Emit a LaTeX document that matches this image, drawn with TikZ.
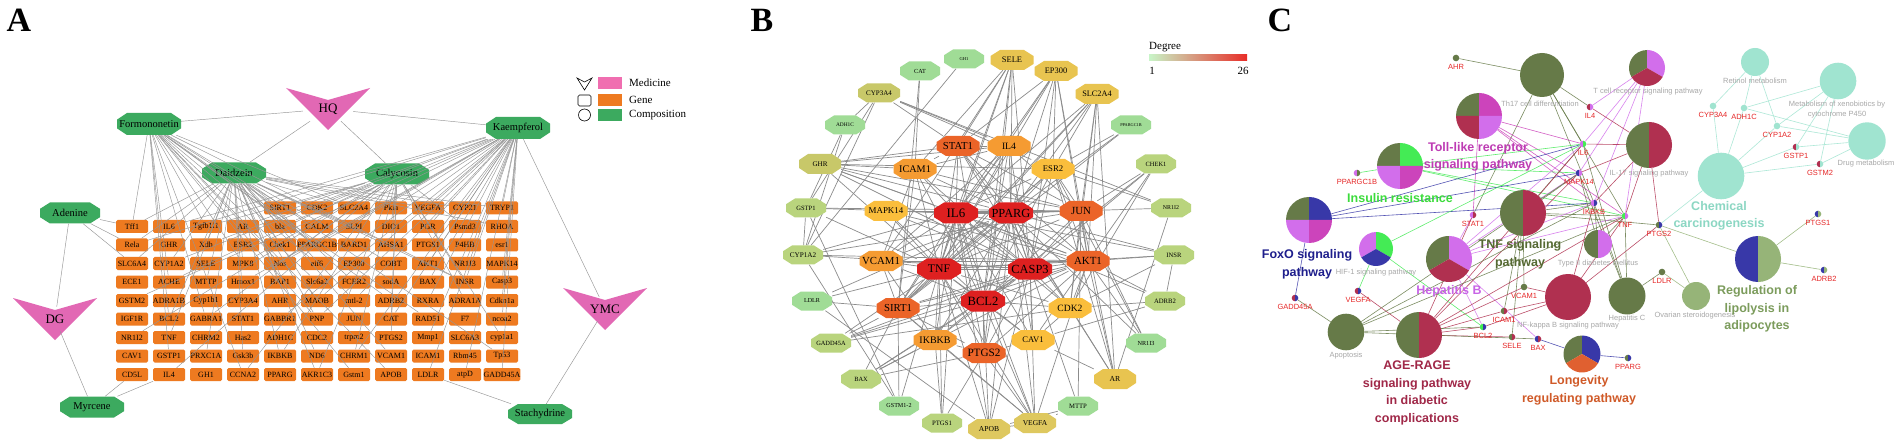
\documentclass[tikz,border=0pt]{standalone}
\usepackage{fontspec}
\setmainfont{Liberation Serif}
\newfontfamily\arialf{Liberation Sans}
\pgfdeclarelayer{bg}
\pgfdeclarelayer{fg}
\pgfsetlayers{bg,main,fg}
% panel A
\definecolor{pinkA}{RGB}{226,104,180}
\definecolor{legPink}{RGB}{240,110,176}
\definecolor{orangeA}{RGB}{238,122,32}
\definecolor{greenA}{RGB}{60,170,95}
\definecolor{edgeA}{RGB}{150,150,150}
% panel B
\definecolor{edgeB}{RGB}{140,140,140}
\definecolor{bLg}{RGB}{160,220,150}
\definecolor{bYg}{RGB}{185,212,125}
\definecolor{bOl}{RGB}{200,200,105}
\definecolor{bGd}{RGB}{232,196,80}
\definecolor{bGd2}{RGB}{222,200,95}
\definecolor{bLy}{RGB}{250,190,60}
\definecolor{bOr}{RGB}{245,155,50}
\definecolor{bDo}{RGB}{235,100,40}
\definecolor{bRd}{RGB}{222,32,32}
\definecolor{degLo}{RGB}{200,245,200}
\definecolor{degMid}{RGB}{255,240,140}
\definecolor{degHi}{RGB}{232,45,40}
% panel C
\definecolor{cOlive}{RGB}{102,122,72}
\definecolor{cCrim}{RGB}{176,48,80}
\definecolor{cMag}{RGB}{204,68,187}
\definecolor{cViolet}{RGB}{210,110,235}
\definecolor{cGreen}{RGB}{68,235,85}
\definecolor{cBlue}{RGB}{56,56,168}
\definecolor{cMint}{RGB}{160,228,208}
\definecolor{cLgreen}{RGB}{150,180,120}
\definecolor{cOrange}{RGB}{224,96,48}
\definecolor{redC}{RGB}{230,40,40}
\definecolor{grayC}{RGB}{168,168,168}
\definecolor{tMag}{RGB}{190,60,180}
\definecolor{tGreen}{RGB}{60,220,60}
\definecolor{tOlive}{RGB}{85,105,50}
\definecolor{tViolet}{RGB}{200,100,230}
\definecolor{tCrim}{RGB}{160,40,72}
\definecolor{tOrange}{RGB}{208,90,40}
\definecolor{tMint}{RGB}{140,215,195}
\definecolor{tLip}{RGB}{124,156,92}
\definecolor{tBlue}{RGB}{30,30,140}

\newcommand\fs[1]{\fontsize{#1}{#1}\selectfont}
% octagon: name, x, y, w, h, chamfer-x, colour, text
\newcommand\octo[8]{%
  \fill[#7] ({#2-#4/2},{#3-0.2*#5}) -- ({#2-#4/2+#6},{#3-#5/2}) -- ({#2+#4/2-#6},{#3-#5/2}) -- ({#2+#4/2},{#3-0.2*#5}) -- ({#2+#4/2},{#3+0.2*#5}) -- ({#2+#4/2-#6},{#3+#5/2}) -- ({#2-#4/2+#6},{#3+#5/2}) -- ({#2-#4/2},{#3+0.2*#5}) -- cycle;
  \node[inner sep=0pt, minimum width=#4, minimum height=#5] (#1) at (#2,#3) {#8};}
% V shape: name, x centre, y top, colour, text
\newcommand\vshape[5]{%
  \fill[#4] ({#2-42},{#3}) -- ({#2},{#3+12}) -- ({#2+42},{#3}) -- ({#2},{#3+42}) -- cycle;
  \node[inner sep=0pt, minimum width=50, minimum height=24] (#1) at ({#2},{#3+21}) {#5};}
\newcommand\generow[3]{\foreach \g [count=\c from #2] in {#3} {\node[gene] (g#1-\c) at ({132+37*\c},{208+18.5*#1}) {\g};}}
% pies
\newcommand\slc[6]{\fill[#6] (#1,#2) -- ++(#3:#5) arc[start angle=#3,end angle=#4,radius=#5] -- cycle;}
\newcommand\pnode[4]{\node[circle,inner sep=0pt,minimum size={2*#4}] (#1) at (#2,#3) {};}
\newcommand\pieF[5]{\fill[#5] (#2,#3) circle[radius=#4]; \pnode{#1}{#2}{#3}{#4}}
\newcommand\pieH[6]{\slc{#2}{#3}{90}{270}{#4}{#5}\slc{#2}{#3}{270}{450}{#4}{#6}\pnode{#1}{#2}{#3}{#4}}
\newcommand\pieT[7]{\slc{#2}{#3}{150}{270}{#4}{#5}\slc{#2}{#3}{270}{390}{#4}{#6}\slc{#2}{#3}{30}{150}{#4}{#7}\pnode{#1}{#2}{#3}{#4}}
\newcommand\pieQ[8]{\slc{#2}{#3}{180}{270}{#4}{#5}\slc{#2}{#3}{270}{360}{#4}{#6}\slc{#2}{#3}{90}{180}{#4}{#7}\slc{#2}{#3}{0}{90}{#4}{#8}\pnode{#1}{#2}{#3}{#4}}
% gene dot: name, x, y, left colour, right colour, label
\newcommand\gdot[6]{%
  \fill[#4] (#2,#3) -- ++(90:3.3) arc[start angle=90,end angle=270,radius=3.3] -- cycle;
  \fill[#5] (#2,#3) -- ++(270:3.3) arc[start angle=270,end angle=450,radius=3.3] -- cycle;
  \node[circle,inner sep=0pt,minimum size=6.6pt] (#1) at (#2,#3) {};
  \node[glab] (#1l) at (#2,{#3+9}) {#6};}

\tikzset{
  gene/.style={rectangle, rounded corners=1.5pt, fill=orangeA, minimum width=32pt, minimum height=13pt, inner sep=0pt, font=\fs{8}},
  aedge/.style={draw=edgeA, line width=0.45pt},
  bedge/.style={draw=edgeB, line width=0.7pt},
  cedge/.style={line width=0.6pt, draw opacity=0.85},
  glab/.style={font=\arialf\fs{7.5}, text=redC, inner sep=0pt},
  graylab/.style={font=\arialf\fontsize{7.5}{10}\selectfont, text=grayC, inner sep=0pt, align=center},
  blab/.style={font=\arialf\bfseries\fontsize{12.5}{17.5}\selectfont, inner sep=0pt, align=center},
  plabel/.style={font=\bfseries\fs{34}, inner sep=0pt},
  legtxt/.style={font=\fs{11}, inner sep=0pt, anchor=west}
}

\begin{document}
\begin{tikzpicture}[x=1pt,y=-1pt]
\useasboundingbox (0,0) rectangle (1902,446);
\begin{pgfonlayer}{bg}
\fill[white] (0,0) rectangle (1902,446);
\end{pgfonlayer}

%================ PANEL A =================
\node[plabel] (labA) at (19,20) {A};
\vshape{aHQ}{328}{88}{pinkA}{\fs{13}HQ}
\vshape{aDG}{55}{298}{pinkA}{\fs{13}DG}
\vshape{aYMC}{605}{288}{pinkA}{\fs{13}YMC}
\octo{aForm}{149}{124}{64}{22}{10}{greenA}{\fs{10.5}Formononetin}
\octo{aKaem}{518}{128}{64}{22}{10}{greenA}{\fs{10.5}Kaempferol}
\octo{aDaid}{234}{173}{64}{21}{10}{greenA}{\fs{10.5}Daidzein}
\octo{aCaly}{397}{174}{64}{21}{10}{greenA}{\fs{10.5}Calycosin}
\octo{aAden}{70}{213}{60}{21}{10}{greenA}{\fs{10.5}Adenine}
\octo{aMyrc}{92}{407}{64}{21}{10}{greenA}{\fs{10.5}Myrcene}
\octo{aStac}{540}{414}{64}{20}{10}{greenA}{\fs{10.5}Stachydrine}

\generow{0}{4}{SIRT1,CDK2,SLC2A4,Pkia,VEGFA,CYP21,TRYP1}
\generow{1}{0}{Tff1,IL6,Tgfb1i1,AR,bla,CALM,SLPI,DIO1,PGR,Psmd3,RHOA}
\generow{2}{0}{Rela,GHR,Xdh,ESR2,Chek1,PPARGC1B,BARD1,AHSA1,PTGS1,P4HB,esr1}
\generow{3}{0}{SLC6A4,CYP1A2,SELE,MPK8,Nos,eif6,EP300,COBT,AKT1,NR1I3,MAPK14}
\generow{4}{0}{ECE1,ACHE,MTTP,Hmox1,BAP1,Slc6a2,FCER2,sodA,BAX,INSR,Casp3}
\generow{5}{0}{GSTM2,ADRA1B,Cyp1b1,CYP3A4,AHR,MAOB,mtl-2,ADRB2,RXRA,ADRA1A,Cdkn1a}
\generow{6}{0}{IGF1R,BCL2,GABRA1,STAT1,GABBR1,PNP,JUN,CAT,RAD51,F7,ncoa2}
\generow{7}{0}{NR1I2,TNF,CHRM2,Has2,ADH1C,CDC2,trpm2,PTGS2,Mmp1,SLC6A3,cyp1a1}
\generow{8}{0}{CAV1,GSTP1,PRXC1A,Gsk3b,IKBKB,ND6,CHRM1,VCAM1,ICAM1,Rbm45,Tp53}
\generow{9}{0}{CD5L,IL4,GH1,CCNA2,PPARG,AKR1C3,Gstm1,APOB,LDLR,atpD,GADD45A}

% legend A
\draw[line width=0.6pt] (577,78) -- (584.5,82) -- (592,78) -- (584.5,90) -- cycle;
\draw[line width=0.6pt, rounded corners=1.5pt] (578,95) rectangle (591,106);
\draw[line width=0.6pt] (584.5,115) circle[radius=6];
\fill[legPink] (598,77) rectangle (622,89);
\fill[orangeA] (598,94) rectangle (622,106);
\fill[greenA] (598,109) rectangle (622,121);
\node[legtxt] (legM) at (629,83) {Medicine};
\node[legtxt] (legG) at (629,100) {Gene};
\node[legtxt] (legC) at (629,115) {Composition};

\begin{pgfonlayer}{fg}
\foreach \a/\b in {aHQ/aForm,aHQ/aKaem,aHQ/aDaid,aHQ/aCaly,aDG/aAden,aDG/aMyrc,aYMC/aKaem,aYMC/aStac,aAden/g1-0,aAden/g2-0,aAden/g3-0,aMyrc/g9-0,aMyrc/g9-1,aStac/g9-8}
  \draw[aedge] (\a) -- (\b);
\pgfmathsetseed{4242}
\foreach \r in {0,...,9}{\foreach \c in {0,...,10}{%
  \pgfmathtruncatemacro\ok{(\r>0)||(\c>3)}%
  \ifnum\ok=1
    \pgfmathsetmacro\pf{(0.5-0.04*\c)*(1-0.06*\r)}%
    \pgfmathsetmacro\pk{(0.22+0.045*\c)*(1-0.05*\r)}%
    \pgfmathsetmacro\pd{0.36*(1-0.06*\r)}%
    \pgfmathsetmacro\pc{(0.18+0.02*\c)*(1-0.06*\r)}%
    \pgfmathtruncatemacro\hf{rnd<\pf}%
    \pgfmathtruncatemacro\hk{rnd<\pk}%
    \pgfmathtruncatemacro\hd{rnd<\pd}%
    \pgfmathtruncatemacro\hc{rnd<\pc}%
    \ifnum\hf=1 \draw[aedge] (aForm) -- (g\r-\c);\fi
    \ifnum\hk=1 \draw[aedge] (aKaem) -- (g\r-\c);\fi
    \ifnum\hd=1 \draw[aedge] (aDaid) -- (g\r-\c);\fi
    \ifnum\hc=1 \draw[aedge] (aCaly) -- (g\r-\c);\fi
  \fi}}
\end{pgfonlayer}

%================ PANEL B =================
\node[plabel] (labB) at (762,20) {B};
\node[legtxt] (degT) at (1149,47) {Degree};
\shade[left color=degLo, middle color=degMid, right color=degHi] (1149,55) rectangle (1247,61);
\node[font=\fs{11}, inner sep=0pt] (deg1) at (1152,71) {1};
\node[font=\fs{11}, inner sep=0pt] (deg26) at (1243,71) {26};

\octo{bGH1}{964}{59}{40}{19}{9}{bLg}{\fs{4.5}GH1}
\octo{bSELE}{1012}{60}{43}{20}{9.5}{bGd}{\fs{8.5}SELE}
\octo{bCAT}{920}{71}{40}{19}{9}{bLg}{\fs{6.2}CAT}
\octo{bEP300}{1056}{71}{43}{20}{9.5}{bGd}{\fs{8.4}EP300}
\octo{bCYP3A4}{879}{93}{42}{19}{9}{bOl}{\fs{7}CYP3A4}
\octo{bSLC2A4}{1097}{94}{43}{20}{9.5}{bGd}{\fs{8.3}SLC2A4}
\octo{bADH1C}{845}{125}{40}{19}{9}{bLg}{\fs{5.4}ADH1C}
\octo{bPPARGC1B}{1131}{125}{40}{19}{9}{bLg}{\fs{4.3}PPARGC1B}
\octo{bSTAT1}{958}{146}{43}{20}{9.5}{bDo}{\fs{10.7}STAT1}
\octo{bIL4}{1009}{146}{43}{20}{9.5}{bOr}{\fs{9.7}IL4}
\octo{bGHR}{820}{164}{42}{20}{9}{bOl}{\fs{7.1}GHR}
\octo{bICAM1}{915}{169}{43}{20}{9.5}{bOr}{\fs{10.2}ICAM1}
\octo{bESR2}{1053}{169}{43}{20}{9.5}{bLy}{\fs{8.7}ESR2}
\octo{bCHEK1}{1156}{164}{40}{19}{9}{bYg}{\fs{6.4}CHEK1}
\octo{bGSTP1}{806}{208}{40}{19}{9}{bYg}{\fs{6.5}GSTP1}
\octo{bMAPK14}{886}{211}{43}{20}{9.5}{bLy}{\fs{8.9}MAPK14}
\octo{bIL6}{956}{213}{44}{21}{10}{bRd}{\fs{12.9}IL6}
\octo{bPPARG}{1011}{213}{44}{21}{10}{bRd}{\fs{12.4}PPARG}
\octo{bJUN}{1081}{211}{43}{20}{9.5}{bDo}{\fs{10.9}JUN}
\octo{bNR1I2}{1171}{208}{40}{19}{9}{bYg}{\fs{5.9}NR1I2}
\octo{bCYP1A2}{803}{255}{40}{19}{9}{bYg}{\fs{7.2}CYP1A2}
\octo{bVCAM1}{881}{261}{43}{20}{9.5}{bOr}{\fs{10.8}VCAM1}
\octo{bTNF}{939}{269}{44}{21}{10}{bRd}{\fs{11.7}TNF}
\octo{bCASP3}{1030}{269}{44}{21}{10}{bRd}{\fs{12.4}CASP3}
\octo{bAKT1}{1088}{261}{43}{20}{9.5}{bDo}{\fs{10.9}AKT1}
\octo{bINSR}{1174}{255}{40}{19}{9}{bYg}{\fs{6.6}INSR}
\octo{bLDLR}{812}{301}{40}{19}{9}{bLg}{\fs{6.1}LDLR}
\octo{bSIRT1}{898}{308}{43}{20}{9.5}{bDo}{\fs{10.7}SIRT1}
\octo{bBCL2}{983}{301}{44}{21}{10}{bRd}{\fs{12.6}BCL2}
\octo{bCDK2}{1070}{308}{43}{20}{9.5}{bLy}{\fs{9.6}CDK2}
\octo{bADRB2}{1165}{301}{40}{19}{9}{bYg}{\fs{6.7}ADRB2}
\octo{bGADD45A}{831}{343}{40}{19}{9}{bYg}{\fs{6.4}GADD45A}
\octo{bIKBKB}{935}{340}{43}{20}{9.5}{bOr}{\fs{10}IKBKB}
\octo{bPTGS2}{984}{353}{43}{20}{9.5}{bDo}{\fs{11.2}PTGS2}
\octo{bCAV1}{1033}{340}{43}{20}{9.5}{bLy}{\fs{8.6}CAV1}
\octo{bNR1I3}{1146}{343}{40}{19}{9}{bLg}{\fs{6.2}NR1I3}
\octo{bBAX}{861}{379}{40}{19}{9}{bYg}{\fs{6.4}BAX}
\octo{bAR}{1115}{379}{42}{20}{9}{bGd}{\fs{7.7}AR}
\octo{bGSTMa}{899}{406}{40}{19}{9}{bLg}{\fs{6.1}GSTM1-2}
\octo{bMTTP}{1078}{406}{40}{19}{9}{bLg}{\fs{6.7}MTTP}
\octo{bPTGS1}{942}{423}{40}{19}{9}{bYg}{\fs{6.7}PTGS1}
\octo{bAPOB}{989}{429}{42}{20}{9}{bGd2}{\fs{7.6}APOB}
\octo{bVEGFA}{1035}{423}{42}{20}{9}{bGd2}{\fs{7.5}VEGFA}

\begin{pgfonlayer}{bg}
\foreach \a in {IL6,PPARG,TNF,CASP3,BCL2}{\foreach \b in {STAT1,IL4,ICAM1,ESR2,MAPK14,JUN,VCAM1,AKT1,SIRT1,CDK2,IKBKB,PTGS2,CAV1}{\draw[bedge] (b\a) -- (b\b);}}
\foreach \a/\b in {IL6/PPARG,IL6/TNF,IL6/CASP3,IL6/BCL2,PPARG/TNF,PPARG/CASP3,PPARG/BCL2,TNF/CASP3,TNF/BCL2,CASP3/BCL2,
 STAT1/IL4,STAT1/ICAM1,STAT1/JUN,STAT1/AKT1,IL4/ICAM1,IL4/JUN,ICAM1/VCAM1,ICAM1/SIRT1,ESR2/JUN,ESR2/AKT1,MAPK14/JUN,MAPK14/AKT1,JUN/AKT1,JUN/CDK2,VCAM1/SIRT1,VCAM1/IKBKB,AKT1/CDK2,AKT1/PTGS2,SIRT1/IKBKB,SIRT1/PTGS2,IKBKB/PTGS2,PTGS2/CAV1,CDK2/CAV1,AKT1/CAV1,SIRT1/AKT1,ICAM1/JUN,VCAM1/AKT1,STAT1/CDK2,IL4/VCAM1,ESR2/SIRT1,
 GH1/CYP1A2,CAT/ICAM1,CAT/SIRT1,
 SELE/IL6,SELE/PPARG,SELE/TNF,SELE/CASP3,SELE/BCL2,SELE/ICAM1,SELE/VCAM1,SELE/STAT1,SELE/PTGS2,
 EP300/STAT1,EP300/PPARG,EP300/JUN,EP300/AKT1,EP300/ESR2,EP300/CASP3,EP300/SIRT1,EP300/IL6,EP300/TNF,
 CYP3A4/ADH1C,CYP3A4/GSTP1,CYP3A4/CYP1A2,CYP3A4/IL4,CYP3A4/ESR2,CYP3A4/STAT1,
 SLC2A4/JUN,SLC2A4/AKT1,SLC2A4/PPARG,SLC2A4/IL6,SLC2A4/ESR2,SLC2A4/SIRT1,SLC2A4/CDK2,SLC2A4/TNF,SLC2A4/AR,
 ADH1C/GSTP1,ADH1C/CYP1A2,PPARGC1B/PPARG,PPARGC1B/SIRT1,PPARGC1B/ESR2,
 GHR/STAT1,GHR/IL6,GHR/PPARG,GHR/TNF,GHR/JUN,GHR/CASP3,GHR/AKT1,GHR/IL4,GHR/ICAM1,GHR/ESR2,
 CHEK1/CDK2,CHEK1/BCL2,CHEK1/JUN,CHEK1/AKT1,CHEK1/CASP3,
 GSTP1/CYP1A2,GSTP1/JUN,GSTP1/TNF,GSTP1/IL6,
 NR1I2/ESR2,NR1I2/CYP3A4,NR1I2/AR,NR1I2/PPARG,
 CYP1A2/AKT1,CYP1A2/IL6,CYP1A2/JUN,CYP1A2/CASP3,
 INSR/AKT1,INSR/PPARG,INSR/IL6,INSR/TNF,INSR/CDK2,INSR/ADRB2,
 LDLR/SIRT1,LDLR/PPARG,LDLR/APOB,LDLR/TNF,
 ADRB2/AKT1,ADRB2/CAV1,ADRB2/CDK2,ADRB2/IL6,
 GADD45A/SIRT1,GADD45A/TNF,GADD45A/AKT1,GADD45A/BCL2,GADD45A/CDK2,GADD45A/CASP3,
 NR1I3/AKT1,NR1I3/ESR2,NR1I3/JUN,NR1I3/PPARG,
 BAX/BCL2,BAX/CASP3,BAX/PTGS2,BAX/IKBKB,BAX/SIRT1,BAX/AKT1,
 AR/AKT1,AR/ESR2,AR/PPARG,AR/CAV1,AR/CDK2,AR/JUN,
 GSTMa/GSTP1,GSTMa/CYP1A2,GSTMa/SIRT1,GSTMa/IL6,
 MTTP/APOB,MTTP/PPARG,MTTP/JUN,
 PTGS1/PTGS2,PTGS1/IKBKB,PTGS1/IL6,PTGS1/TNF,
 APOB/PPARG,APOB/TNF,APOB/IL6,APOB/VEGFA,APOB/CASP3,APOB/BCL2,
 VEGFA/IL6,VEGFA/TNF,VEGFA/PPARG,VEGFA/AKT1,VEGFA/MTTP,VEGFA/CASP3,VEGFA/BCL2,VEGFA/PTGS2,VEGFA/SIRT1,VEGFA/IKBKB}
  \draw[bedge] (b\a) -- (b\b);
\end{pgfonlayer}

%================ PANEL C =================
\node[plabel] (labC) at (1280,20) {C};
\pieF{pTh17}{1542}{75}{22}{cOlive}
\pieQ{pToll}{1479}{116}{23}{cOlive}{cMag}{cCrim}{cViolet}
\pieQ{pIns}{1400}{166}{23}{cOlive}{cGreen}{cViolet}{cMag}
\pieQ{pFoxO}{1309}{220}{23}{cOlive}{cBlue}{cViolet}{cMag}
\pieH{pTNFs}{1523}{213}{23}{cOlive}{cCrim}
\pieT{pTcell}{1647}{68}{18}{cOlive}{cViolet}{cCrim}
\pieH{pIL17}{1649}{145}{23}{cOlive}{cCrim}
\pieT{pHIF}{1376}{249}{17}{cViolet}{cGreen}{cBlue}
\pieT{pHepB}{1449}{259}{23}{cOlive}{cViolet}{cCrim}
\pieF{pApop}{1346}{332}{18.3}{cOlive}
\pieH{pAGE}{1419}{335}{23}{cOlive}{cCrim}
\pieF{pNFkB}{1568}{297}{23}{cCrim}
\pieH{pT2D}{1598}{244}{14}{cOlive}{cViolet}
\pieF{pHepC}{1627}{296}{18.5}{cOlive}
\pieF{pOvar}{1696}{296}{14}{cLgreen}
\pieH{pLipo}{1758}{259}{23}{cBlue}{cLgreen}
\pieT{pLong}{1582}{354}{18.5}{cOlive}{cBlue}{cOrange}
\pieF{pRet}{1755}{62}{14}{cMint}
\pieF{pXeno}{1838}{81}{18.3}{cMint}
\pieF{pDrug}{1867}{141}{18.7}{cMint}
\pieF{pChem}{1721}{176}{23.3}{cMint}

\gdot{kAHR}{1456}{58}{cOlive}{cOlive}{AHR}
\gdot{kIL4}{1590}{107}{cCrim}{cViolet}{IL4}
\gdot{kIL6}{1583}{144}{cViolet}{cGreen}{IL6}
\gdot{kMAPK14}{1579}{173}{cBlue}{cViolet}{MAPK14}
\gdot{kIKBKB}{1594}{203}{cViolet}{cBlue}{IKBKB}
\gdot{kTNF}{1625}{216}{cGreen}{cViolet}{TNF}
\gdot{kPTGS2}{1659}{225}{cOlive}{cBlue}{PTGS2}
\gdot{kSTAT1}{1473}{215}{cViolet}{cCrim}{STAT1}
\gdot{kPPARGC1B}{1357}{173}{cViolet}{cOlive}{PPARGC1B}
\gdot{kGADD45A}{1295}{298}{cCrim}{cBlue}{GADD45A}
\gdot{kVEGFA}{1358}{291}{cCrim}{cBlue}{VEGFA}
\gdot{kBCL2}{1483}{327}{cGreen}{cBlue}{BCL2}
\gdot{kICAM1}{1504}{311}{cOlive}{cCrim}{ICAM1}
\gdot{kVCAM1}{1524}{287}{cOlive}{cOlive}{VCAM1}
\gdot{kSELE}{1512}{337}{cOlive}{cCrim}{SELE}
\gdot{kBAX}{1538}{339}{cBlue}{cCrim}{BAX}
\gdot{kLDLR}{1662}{272}{cOlive}{cOlive}{LDLR}
\gdot{kPPARG}{1628}{358}{cOlive}{cBlue}{PPARG}
\gdot{kADRB2}{1824}{270}{cBlue}{cLgreen}{ADRB2}
\gdot{kPTGS1}{1818}{214}{cBlue}{cLgreen}{PTGS1}
\gdot{kCYP3A4}{1713}{106}{cMint}{cMint}{CYP3A4}
\gdot{kADH1C}{1744}{108}{cMint}{cMint}{ADH1C}
\gdot{kCYP1A2}{1777}{126}{cMint}{cMint}{CYP1A2}
\gdot{kGSTP1}{1796}{147}{cCrim}{cMint}{GSTP1}
\gdot{kGSTM2}{1820}{164}{cCrim}{cMint}{GSTM2}

\node[graylab] (tTh17) at (1540,104) {Th17 cell differentiation};
\node[graylab] (tTcell) at (1648,92) {T cell receptor signaling pathway};
\node[graylab] (tIL17) at (1649,174) {IL-17 signaling pathway};
\node[graylab] (tRet) at (1755,81) {Retinol metabolism};
\node[graylab] (tXeno) at (1837,110) {Metabolism of xenobiotics by\\cytochrome P450};
\node[graylab] (tDrug) at (1866,164) {Drug metabolism};
\node[graylab] (tHIF) at (1376,273) {HIF-1 signaling pathway};
\node[graylab] (tApop) at (1346,356) {Apoptosis};
\node[graylab] (tNFkB) at (1568,326) {NF-kappa B signaling pathway};
\node[graylab] (tT2D) at (1598,264) {Type II diabetes mellitus};
\node[graylab] (tHepC) at (1627,319) {Hepatitis C};
\node[graylab] (tOvar) at (1695,316) {Ovarian steroidogenesis};

\node[blab, text=tMag] (bToll) at (1478,157) {Toll-like receptor\\signaling pathway};
\node[blab, text=tGreen] (bIns) at (1400,198) {Insulin resistance};
\node[blab, text=tBlue] (bFoxO) at (1307,264.5) {FoxO signaling\\pathway};
\node[blab, text=tOlive] (bTNFs) at (1520,254.5) {TNF signaling\\pathway};
\node[blab, text=tViolet] (bHepB) at (1449,291) {Hepatitis B};
\node[blab, text=tCrim] (bAGE) at (1417,393) {AGE-RAGE\\signaling pathway\\in diabetic\\complications};
\node[blab, text=tOrange] (bLong) at (1579,390.5) {Longevity\\regulating pathway};
\node[blab, text=tMint] (bChem) at (1719,216) {Chemical\\carcinogenesis};
\node[blab, text=tLip] (bLipo) at (1757,309) {Regulation of\\lipolysis in\\adipocytes};

\begin{pgfonlayer}{bg}
\foreach \g in {AHR,IL4,IL6,STAT1,IKBKB,TNF} \draw[cedge,draw=cOlive] (pTh17) -- (k\g);
\foreach \g in {IL4,IL6,MAPK14,IKBKB,TNF} \draw[cedge,draw=cViolet] (pTcell) -- (k\g);
\foreach \g in {IL4,IL6,MAPK14,IKBKB,TNF,PTGS2} \draw[cedge,draw=cCrim] (pIL17) -- (k\g);
\foreach \g in {IL6,MAPK14,IKBKB,TNF,STAT1} \draw[cedge,draw=cMag] (pToll) -- (k\g);
\foreach \g in {PPARGC1B,IL6,MAPK14,IKBKB,TNF} \draw[cedge,draw=cGreen] (pIns) -- (k\g);
\foreach \g in {IL6,MAPK14,IKBKB,GADD45A} \draw[cedge,draw=cBlue] (pFoxO) -- (k\g);
\foreach \g in {VEGFA,BCL2,IL6} \draw[cedge,draw=cGreen] (pHIF) -- (k\g);
\foreach \g in {IL6,MAPK14,IKBKB,TNF,PTGS2,ICAM1,VCAM1,SELE} \draw[cedge,draw=cOlive] (pTNFs) -- (k\g);
\foreach \g in {STAT1,IL6,MAPK14,IKBKB,TNF,BCL2,BAX} \draw[cedge,draw=cViolet] (pHepB) -- (k\g);
\foreach \g in {STAT1,IL6,MAPK14,TNF,BCL2,ICAM1,VCAM1,SELE,VEGFA} \draw[cedge,draw=cCrim] (pAGE) -- (k\g);
\foreach \g in {GADD45A,BCL2,BAX,IKBKB,TNF,MAPK14} \draw[cedge,draw=cOlive] (pApop) -- (k\g);
\foreach \g in {IKBKB,TNF,PTGS2,ICAM1,VCAM1,BCL2} \draw[cedge,draw=cCrim] (pNFkB) -- (k\g);
\foreach \g in {TNF,IKBKB,IL6,LDLR,MAPK14} \draw[cedge,draw=cOlive] (pHepC) -- (k\g);
\foreach \g in {TNF,IKBKB,MAPK14} \draw[cedge,draw=cOlive] (pT2D) -- (k\g);
\foreach \g in {PPARG,BAX} \draw[cedge,draw=cBlue] (pLong) -- (k\g);
\foreach \g in {PTGS2,LDLR} \draw[cedge,draw=cLgreen] (pOvar) -- (k\g);
\foreach \g in {PTGS1,ADRB2,PTGS2} \draw[cedge,draw=cLgreen] (pLipo) -- (k\g);
\foreach \g in {CYP3A4,ADH1C,CYP1A2,GSTP1,GSTM2,PTGS2} \draw[cedge,draw=cMint] (pChem) -- (k\g);
\foreach \g in {CYP3A4,ADH1C,CYP1A2} \draw[cedge,draw=cMint] (pRet) -- (k\g);
\foreach \g in {ADH1C,CYP1A2,GSTP1,GSTM2} \draw[cedge,draw=cMint] (pXeno) -- (k\g);
\foreach \g in {ADH1C,CYP1A2,GSTP1,GSTM2} \draw[cedge,draw=cMint] (pDrug) -- (k\g);
\end{pgfonlayer}
\end{tikzpicture}
\end{document}
